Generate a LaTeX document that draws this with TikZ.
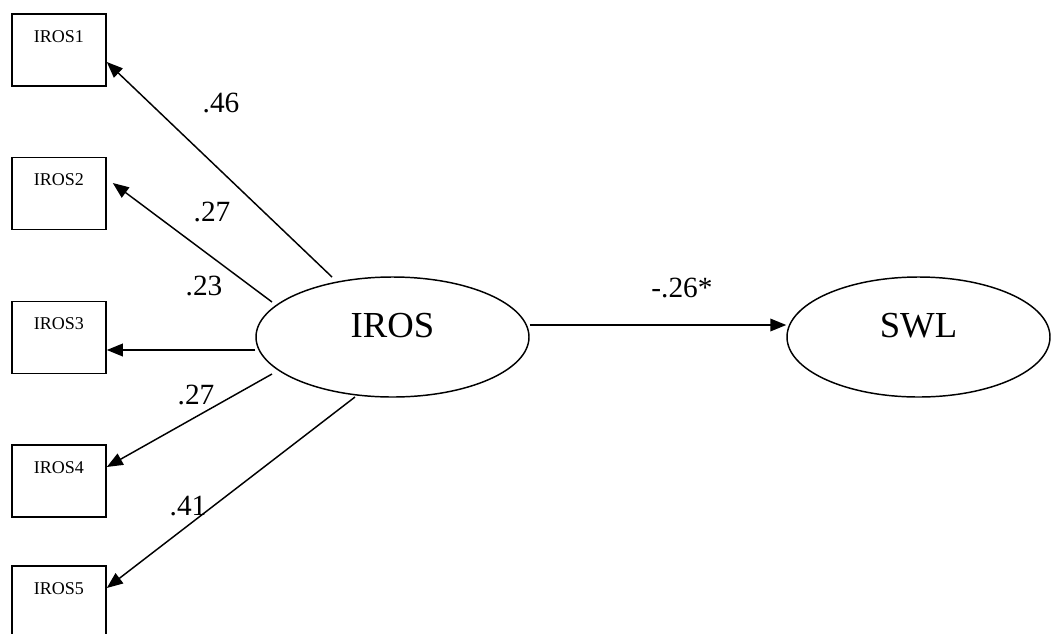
\documentclass[tikz,border=0pt]{standalone}
\usepackage{fontspec}
\setmainfont{Liberation Serif}
\usetikzlibrary{calc, arrows.meta, shapes.geometric}

\tikzset{
  item/.style={draw, rectangle, line width=1.2pt, minimum width=70.5pt,
    inner xsep=0pt, inner ysep=12pt, text height=9.3pt, text depth=20.7pt,
    font=\fontsize{13.5}{15}\selectfont},
  factor/.style={draw, ellipse, line width=1.1pt, inner sep=0pt,
    text height=20pt, text depth=20pt, font=\fontsize{27.5}{30}\selectfont},
  path/.style={line width=1.1pt, -{Triangle[length=12pt,width=9.5pt]}},
  coef/.style={font=\fontsize{22}{24}\selectfont, inner sep=0pt}
}

\begin{document}
\begin{tikzpicture}[x=0.75pt, y=-0.75pt]
		\clip[use as bounding box] (0,0) rectangle (1051,633);
		% indicators
		\node[item] (b1) at (59,50) {IROS1};
		\node[item] (b2) at (59,193.5) {IROS2};
		\node[item] (b3) at (59,337.5) {IROS3};
		\node[item] (b4) at (59,481) {IROS4};
		\node[item] (b5) at (59,602) {IROS5};
		% latent variables
		\node[factor, minimum width=204.75pt, minimum height=90pt] (iros) at (392.5,337) {IROS};
		\node[factor, minimum width=197.25pt, minimum height=90pt] (swl) at (918.5,337) {SWL};
		% loadings
		\draw[path] ($(iros.center)+(-60.5,-60)$) -- ($(b1.east)+(0,12)$);
		\draw[path] ($(iros.center)+(-120.5,-35)$) -- ($(b2.east)+(6,-10.5)$);
		\draw[path] ($(iros.west)+(0,13)$) -- ($(b3.east)+(0,12.5)$);
		\draw[path] ($(iros.center)+(-120.5,37)$) -- ($(b4.east)+(0,-14)$);
		\draw[path] ($(iros.center)+(-37.5,60)$) -- ($(b5.east)+(0,-14)$);
		\draw[path] ($(iros.east)+(0,-12)$) -- ($(swl.west)+(0,-12)$);
		% coefficients
		\node[coef] (c1) at (221,103) {.46};
		\node[coef] (c2) at (212,212) {.27};
		\node[coef] (c3) at (204,286) {.23};
		\node[coef] (c4) at (196,395) {.27};
		\node[coef] (c5) at (188,506) {.41};
		\node[coef] (c6) at (682,288) {-.26*};
\end{tikzpicture}
\end{document}
